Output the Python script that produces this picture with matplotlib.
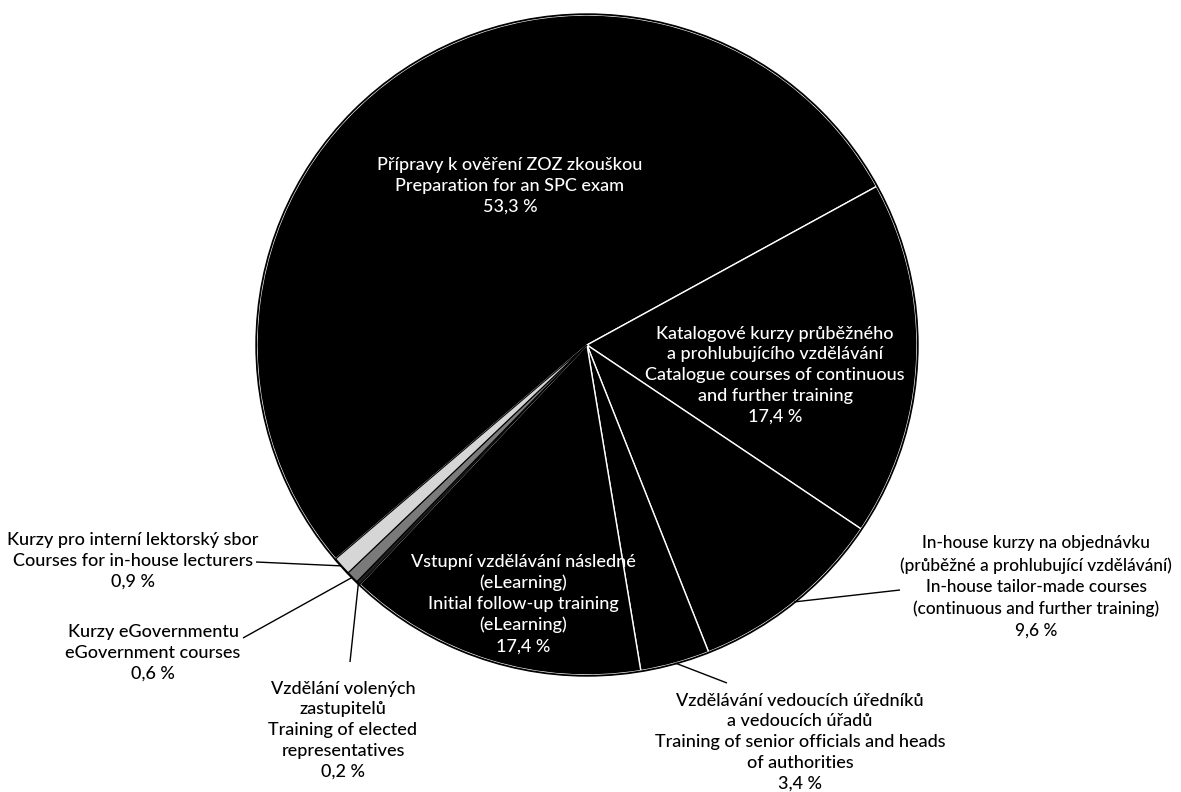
import numpy as np
import matplotlib
matplotlib.use("Agg")
import matplotlib.pyplot as plt

# ---- data ----
categories_cz = [
    "Přípravy k ověření ZOZ zkouškou",
    "Katalogové kurzy průběžného\na prohlubujícího vzdělávání",
    "In-house kurzy na objednávku\n(průběžné a prohlubující vzdělávání)",
    "Vzdělávání vedoucích úředníků\na vedoucích úřadů",
    "Vstupní vzdělávání následné\n(eLearning)",
    "Vzdělání volených\nzastupitelů",
    "Kurzy eGovernmentu",
    "Kurzy pro interní lektorský sbor",
]
categories_en = [
    "Preparation for an SPC exam",
    "Catalogue courses of continuous\nand further training",
    "In-house tailor-made courses\n(continuous and further training)",
    "Training of senior officials and heads\nof authorities",
    "Initial follow-up training\n(eLearning)",
    "Training of elected\nrepresentatives",
    "eGovernment courses",
    "Courses for in-house lecturers",
]
# wedge sizes as drawn (the eLearning wedge is drawn smaller than its printed label)
values = [53.3, 17.4, 9.6, 3.4, 14.7, 0.2, 0.6, 0.9]
pct_labels = ["53,3 %", "17,4 %", "9,6 %", "3,4 %", "17,4 %", "0,2 %", "0,6 %", "0,9 %"]

colors = ["#000000", "#000000", "#000000", "#000000", "#000000",
          "#1e1e1e", "#7a7a7a", "#d6d6d6"]

W, H = 1181, 792
fig = plt.figure(figsize=(W / 100, H / 100), dpi=100)
ax = fig.add_axes([0, 0, 1, 1])

cx, cy, R = 587, H - 345, 330
start = 220.4
wedges, _ = ax.pie(values, colors=colors, startangle=start, counterclock=False,
                   center=(cx, cy), radius=R,
                   wedgeprops=dict(edgecolor="white", linewidth=1.0))
for w, c in zip(wedges, colors):
    if c != "#000000":
        w.set_edgecolor("#000000")
        w.set_linewidth(0.8)
ax.add_patch(plt.Circle((cx, cy), R + 0.8, fill=False, edgecolor="black", linewidth=1.3))

ax.set_xlim(0, W)
ax.set_ylim(0, H)
ax.set_aspect("auto")
ax.axis("off")

FONT = "Lato"
FS = 13.0
LS = 1.36

def P(x, y):
    return x, H - y

def label(i, x, y, color, fs=FS, ls=LS):
    txt = categories_cz[i] + "\n" + categories_en[i] + "\n" + pct_labels[i]
    ax.text(*P(x, y), txt, ha="center", va="center", color=color,
            fontsize=fs, family=FONT, linespacing=ls, weight="medium")

# inside labels
label(0, 510, 186, "white")
label(1, 775, 375, "white")
label(4, 523, 604, "white")
# outside labels
label(2, 1036, 587, "black", fs=12.4, ls=1.42)
label(3, 800, 742, "black")
label(5, 343, 730, "black")
label(6, 153, 653, "black")
label(7, 133, 561, "black")

# leader lines from wedge mid-angle on the rim to the label side
mids = []
for w in wedges:
    mids.append(np.deg2rad((w.theta1 + w.theta2) / 2))

def leader(i, x2, y2):
    a = mids[i]
    x1, y1 = cx + R * np.cos(a), cy + R * np.sin(a)
    ax.plot([x1, x2], [y1, H - y2], color="black", lw=1.0, solid_capstyle="butt")

leader(2, 900, 590)
leader(3, 727, 683)
leader(5, 350, 662)
leader(6, 243, 638)
leader(7, 256, 562)

fig.savefig("out.png", dpi=100, facecolor="white")
